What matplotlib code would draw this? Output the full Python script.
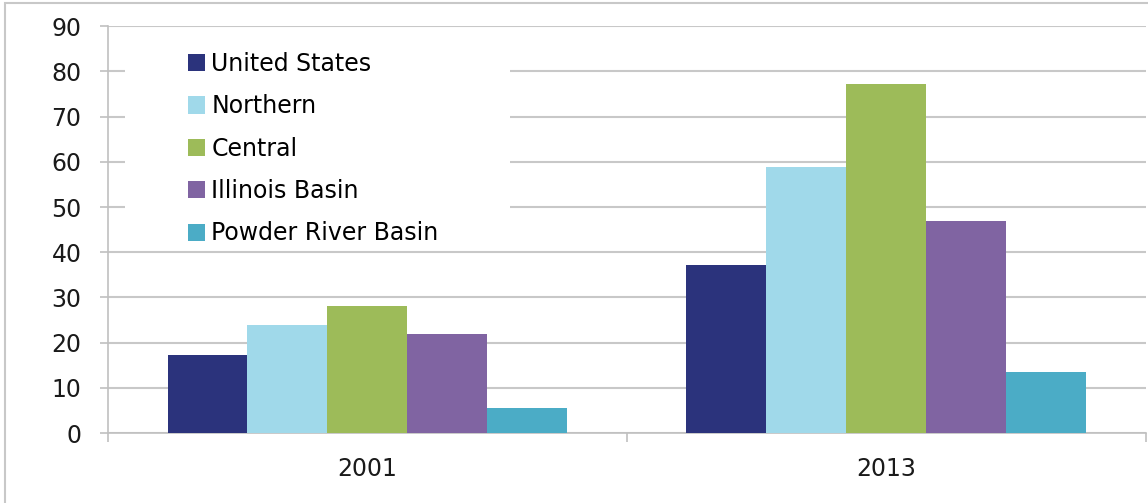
# Grouped bar chart: 2001 vs 2013 by coal region

import numpy as np
import matplotlib.pyplot as plt
from matplotlib.patches import Rectangle

# Data
years = ["2001", "2013"]
regions = ["United States", "Northern", "Central", "Illinois Basin", "Powder River Basin"]
us = [17.3, 37.2]
northern = [24.0, 58.8]
central = [28.0, 77.2]
illinois = [21.9, 47.0]
powder_river = [5.6, 13.4]
yticks = [0, 10, 20, 30, 40, 50, 60, 70, 80, 90]

colors = ["#2b337c", "#a0d9ea", "#9dbb59", "#8064a2", "#4bacc6"]
series = [us, northern, central, illinois, powder_river]

plt.rcParams['font.family'] = ['DejaVu Sans']
fs = 17

fig = plt.figure(figsize=(11.48, 5.03), dpi=100)
ax = fig.add_axes([0.094, 0.139, 0.904, 0.809])

# outer chart border
fig.patches.append(Rectangle((0.004, -0.01), 1.0, 1.004, transform=fig.transFigure,
                             fill=False, edgecolor="#c8c8c8", linewidth=1.5))

x = np.arange(len(years))
width = 0.77 / len(series)
for i, (vals, name) in enumerate(zip(series, regions)):
    ax.bar(x + (i - 2) * width, vals, width, color=colors[i], label=name, zorder=3)

ax.set_xlim(-0.5, 1.5)
ax.set_ylim(0, 90)
ax.set_yticks(yticks)
ax.set_xticks(x)
ax.set_xticklabels(years, fontsize=fs, color="#1a1a1a")
ax.tick_params(axis="y", labelsize=fs, length=6, color="#c0c0c0", width=1.2,
               labelcolor="#1a1a1a", pad=13)
ax.tick_params(axis="x", length=0, pad=17)
# minor ticks marking the category boundaries
ax.set_xticks([-0.5, 0.5, 1.5], minor=True)
ax.tick_params(axis="x", which="minor", length=6.5, color="#c0c0c0", width=1.2)

ax.set_axisbelow(True)
ax.grid(axis="y", color="#c8c8c8", linewidth=1.5)
for side in ["top", "right"]:
    ax.spines[side].set_visible(False)
ax.spines["left"].set_color("#c0c0c0")
ax.spines["left"].set_linewidth(1.2)
ax.spines["bottom"].set_color("#c0c0c0")
ax.spines["bottom"].set_linewidth(1.2)

# white legend area hiding the gridlines
ax.add_patch(Rectangle((0.016, 0.46), 0.371, 0.49, transform=ax.transAxes,
                       facecolor="white", edgecolor="none", zorder=1))

leg = ax.legend(loc="upper left", bbox_to_anchor=(0.0655, 0.966), fontsize=fs,
                frameon=False, handlelength=0.75, handleheight=0.75,
                handletextpad=0.25, labelspacing=0.78, borderpad=0.0)
leg.set_zorder(5)

fig.savefig("out.png", dpi=100)
